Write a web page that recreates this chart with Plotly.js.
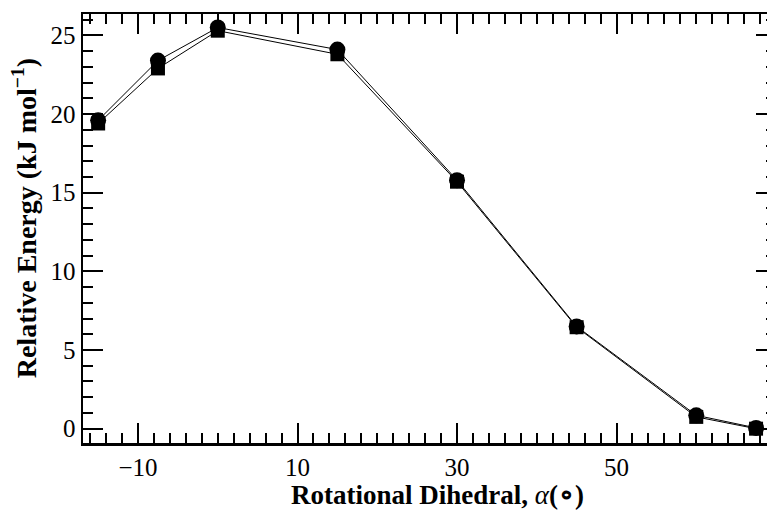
<!DOCTYPE html>
<html>
<head>
<meta charset="utf-8">
<script src="https://cdn.plot.ly/plotly-3.0.1.min.js"></script>
<style>
html,body{margin:0;padding:0;overflow:hidden;background:#fff;}
#chart{width:790px;height:510px;}
</style>
</head>
<body>
<div id="chart"></div>
<script>
// Rotational dihedral (degrees)
const dihedral = [-15, -7.5, 0, 15, 30, 45, 60, 67.5];
// Series A (circles), relative energy kJ/mol
const energyCircle = [19.6, 23.4, 25.5, 24.1, 15.8, 6.5, 0.85, 0.05];
// Series B (squares)
const energySquare = [19.4, 22.9, 25.3, 23.8, 15.7, 6.45, 0.75, 0.0];
const xTickVals = [-10, 10, 30, 50];
const yTickVals = [0, 5, 10, 15, 20, 25];
const xTitle = '<b>Rotational Dihedral, </b><i>α</i><b>(∘)</b>';
const yTitle = '<b>Relative Energy (kJ mol<sup>−1</sup>)</b>';

const font = 'Liberation Serif, Times New Roman, serif';

const traces = [
  {x: dihedral, y: energySquare, mode: 'lines+markers', type: 'scatter',
   line: {color: '#000', width: 1},
   marker: {symbol: 'square', size: 14, color: '#000'}, cliponaxis: false},
  {x: dihedral, y: energyCircle, mode: 'lines+markers', type: 'scatter',
   line: {color: '#000', width: 1},
   marker: {symbol: 'circle', size: 16, color: '#000'}, cliponaxis: false}
];

const layout = {
  width: 790, height: 510,
  margin: {l: 83, r: 14, t: 14, b: 67},
  paper_bgcolor: '#fff', plot_bgcolor: '#fff',
  showlegend: false,
  font: {family: font, color: '#000', size: 25},
  xaxis: {
    range: [-16.9, 70], tickvals: xTickVals, ticks: 'inside', ticklen: 20, tickwidth: 2,
    tickcolor: '#000', showline: true, linecolor: '#000', linewidth: 2.5, mirror: 'ticks',
    showgrid: false, zeroline: false,
    tickfont: {family: font, size: 25},
    minor: {dtick: 2, tick0: 0, ticks: 'inside', ticklen: 10, tickwidth: 2, tickcolor: '#000'}
  },
  yaxis: {
    range: [-0.91, 26.36], tickvals: yTickVals, ticks: 'inside', ticklen: 20, tickwidth: 2,
    tickcolor: '#000', showline: true, linecolor: '#000', linewidth: 2.5, mirror: 'ticks',
    showgrid: false, zeroline: false,
    tickfont: {family: font, size: 25},
    minor: {dtick: 1, ticks: 'inside', ticklen: 10, tickwidth: 2, tickcolor: '#000'}
  },
  annotations: [
    {text: xTitle, xref: 'paper', yref: 'paper', x: 0.511, y: -0.122,
     xanchor: 'center', yanchor: 'middle', showarrow: false,
     font: {family: font, size: 27, color: '#000'}},
    {text: yTitle, xref: 'paper', yref: 'paper', x: -0.085, y: 0.524,
     xanchor: 'center', yanchor: 'middle', showarrow: false, textangle: -90,
     font: {family: font, size: 28, color: '#000'}}
  ]
};

Plotly.newPlot('chart', traces, layout, {displayModeBar: false, staticPlot: true});
</script>
</body>
</html>
